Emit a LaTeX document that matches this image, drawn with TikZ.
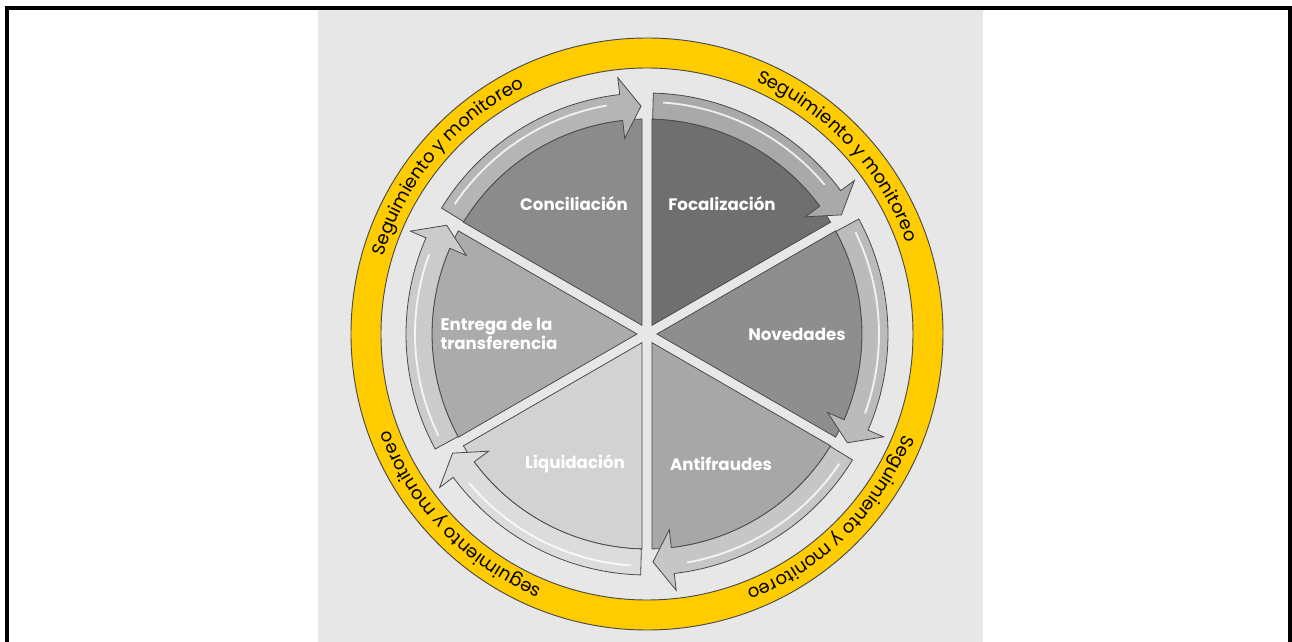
\documentclass[tikz,border=0pt]{standalone}
\usepackage{fontspec}
\setmainfont{Poppins}
\usetikzlibrary{decorations.text}

\definecolor{ringyellow}{HTML}{FFCC00}
\definecolor{bggray}{HTML}{E7E7E7}
\definecolor{edgegray}{HTML}{4A4A4A}
\definecolor{focgray}{HTML}{6F6F6F}
\definecolor{novgray}{HTML}{8E8E8E}
\definecolor{antigray}{HTML}{A7A7A7}
\definecolor{liqgray}{HTML}{D2D2D2}
\definecolor{entgray}{HTML}{ABABAB}
\definecolor{concgray}{HTML}{8B8B8B}
\definecolor{focband}{HTML}{A9A9A9}
\definecolor{novband}{HTML}{BBBBBB}
\definecolor{antiband}{HTML}{C6C6C6}
\definecolor{liqband}{HTML}{DCDCDC}
\definecolor{entband}{HTML}{CBCBCB}
\definecolor{concband}{HTML}{B5B5B5}

\begin{document}
\begin{tikzpicture}[x=0.75pt,y=0.75pt,
		lbl/.style={text=white,font=\bfseries\fontsize{12.5}{14}\selectfont},
		ringtext/.style={decoration={text along path,text align=center,
				text={|\fontsize{13.5}{16}\selectfont|#1}},decorate}]
			\useasboundingbox (-647,-308) rectangle (645,334);
			\fill[white] (-647,-308) rectangle (645,334);
			\fill[bggray] (-329,-308) rectangle (336,324);
			\draw[line width=2.5] (-640,-310) -- (-640,326) -- (643,326) -- (643,-310);
		
			\filldraw[ringyellow,draw=edgegray,line width=0.7,even odd rule] (0,0) circle (296) (0,0) circle (266);
			\path[ringtext=Seguimiento y monitoreo] (83:275) arc[start angle=83,end angle=3,radius=275];
			\path[ringtext=Seguimiento y monitoreo] (180:275) arc[start angle=180,end angle=100,radius=275];
			\path[ringtext=Seguimiento y monitoreo] (-5:275) arc[start angle=-5,end angle=-85,radius=275];
			\path[ringtext=seguimiento y monitoreo] (-96:275) arc[start angle=-96,end angle=-176,radius=275];
		
			\foreach \a/\col/\bcol in {30/focgray/focband,-30/novgray/novband,-90/antigray/antiband,
					-150/liqgray/liqband,150/entgray/entband,90/concgray/concband}{
				\filldraw[fill=\col,draw=edgegray,line width=0.6] (\a+30:10) -- (\a+1.33:215)
					arc[start angle=\a+1.33,end angle=\a+58.67,radius=215] -- cycle;
				\filldraw[fill=\bcol,draw=edgegray,line width=0.6] (\a+58.5:241)
					arc[start angle=\a+58.5,end angle=\a+6.5,radius=241]
					-- (\a+6.5:258) -- (\a+1.5:228) -- (\a+6.5:197) -- (\a+6.5:215)
					arc[start angle=\a+6.5,end angle=\a+58.5,radius=215] -- cycle;
				\draw[white,opacity=0.8,line width=1.4] (\a+56:232) arc[start angle=\a+56,end angle=\a+10,radius=232];
			}
		
			\node[lbl] (conc) at (-73,130) {Conciliación};
			\node[lbl] (foc) at (75,130) {Focalización};
			\node[lbl] (nov) at (150,0) {Novedades};
			\node[lbl] (anti) at (74,-130) {Antifraudes};
			\node[lbl] (liq) at (-72,-130) {Liquidación};
			\node[lbl,align=left] (ent) at (-148,0) {Entrega de la\\transferencia};
		\end{tikzpicture}
\end{document}
